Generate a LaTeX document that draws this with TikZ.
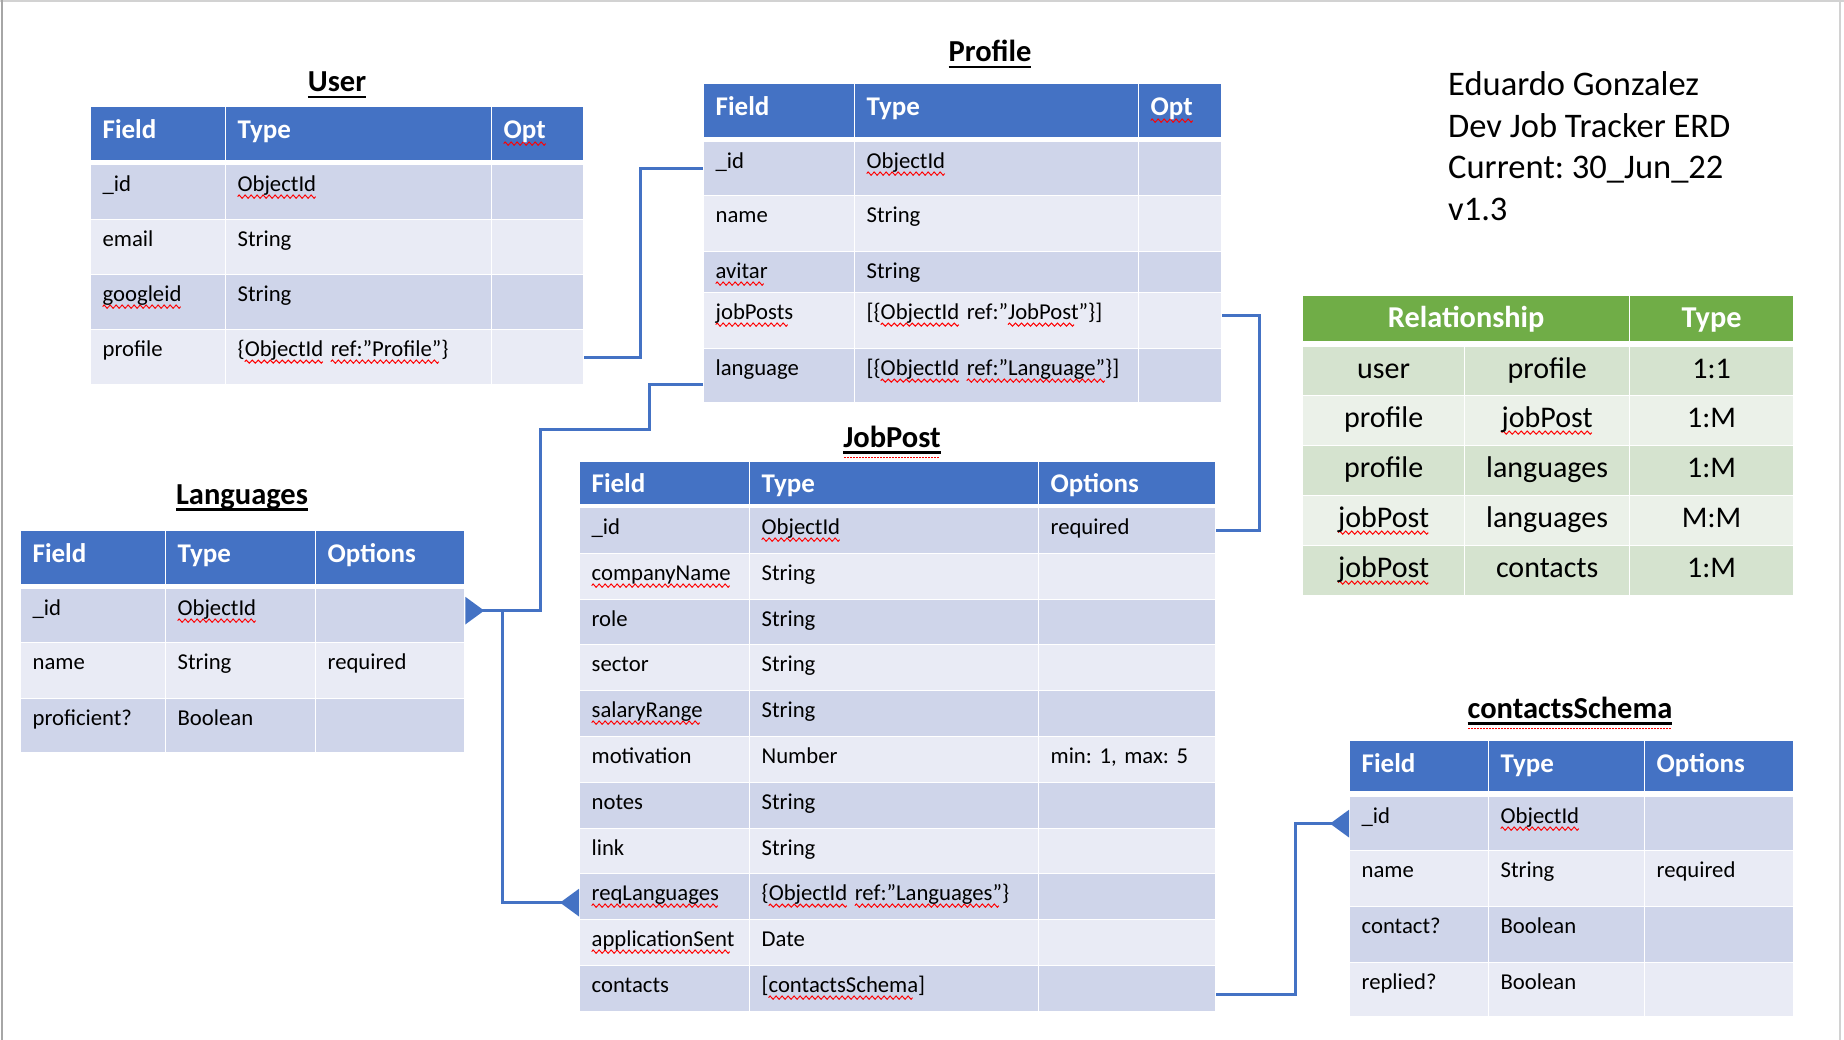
\documentclass[tikz,border=0pt]{standalone}
\usepackage{fontspec}
\setmainfont{Carlito}
\usetikzlibrary{arrows.meta}

\definecolor{hdrblue}{HTML}{4472C4}
\definecolor{rowdk}{HTML}{CFD5EA}
\definecolor{rowlt}{HTML}{E9EBF5}
\definecolor{grnhdr}{HTML}{70AD47}
\definecolor{grndk}{HTML}{D5E3CF}
\definecolor{grnlt}{HTML}{EBF1E9}
\definecolor{lnk}{HTML}{4472C4}

% red spell-check wave under a word
\newsavebox\sqbox
\newcommand\wavebit{\tikz[x=1pt,y=1pt,baseline=0pt]{\useasboundingbox (0,-2) rectangle (6,2);
  \draw[red, line width=1pt] (0,0) sin (1.5,1.6) cos (3,0) sin (4.5,-1.6) cos (6,0);}}
\newcommand\sq[1]{\sbox\sqbox{#1}\rlap{\lower5pt\hbox to\wd\sqbox{\leaders\hbox{\wavebit}\hfill}}\usebox\sqbox}
% table titles, underlined (and a red dotted line for the flagged ones)
\newsavebox\tlbox
\newcommand\uln[1]{\sbox\tlbox{#1}\rlap{\rule[-6.5pt]{\wd\tlbox}{2.5pt}}\usebox\tlbox}
\newcommand\ulnr[1]{\sbox\tlbox{#1}\rlap{\rule[-6.5pt]{\wd\tlbox}{2.5pt}}%
  \rlap{\color{red}\lower11pt\hbox to\wd\tlbox{\leaders\hbox to 3pt{\hss\vrule width 1.5pt height 1.5pt\hss}\hfill}}\usebox\tlbox}

% column edges of the current table
\newcommand\setcols[4]{\def\cA{#1}\def\cB{#2}\def\cC{#3}\def\cD{#4}%
  \pgfmathsetmacro\wA{#2-#1-24}\pgfmathsetmacro\wB{#3-#2-24}\pgfmathsetmacro\wC{#4-#3-24}}
% one table row: [baseline] name style top height field type options
\newcommand\erdrow[8][27]{%
  \pgfmathsetmacro\dep{#5-#1}%
  \node[#3, text width=\wA pt, text height=#1pt, text depth=\dep pt] (#2a) at (\cA,#4) {#6};
  \node[#3, text width=\wB pt, text height=#1pt, text depth=\dep pt] (#2b) at (\cB,#4) {#7};
  \node[#3, text width=\wC pt, text height=#1pt, text depth=\dep pt] (#2c) at (\cC,#4) {#8};}

\tikzset{
  cell/.style={anchor=north west, draw=white, line width=1.25pt, inner xsep=12pt,
    inner ysep=0pt, align=left, font=\fontsize{22.7}{27}\selectfont\frenchspacing},
  hdr/.style={cell, fill=hdrblue, text=white, font=\fontsize{27}{32}\selectfont\bfseries},
  dk/.style={cell, fill=rowdk},
  lt/.style={cell, fill=rowlt},
  rel/.style={cell, align=center, font=\fontsize{30}{36}\selectfont},
  gdk/.style={rel, fill=grndk},
  glt/.style={rel, fill=grnlt},
  ghdr/.style={rel, fill=grnhdr, text=white, font=\fontsize{30.3}{36}\selectfont\bfseries},
  link/.style={draw=lnk, line width=3pt},
  fk/.tip={Triangle[reversed, length=19pt, width=27pt]},
  tabtitle/.style={anchor=base, inner sep=0pt, font=\fontsize{30.5}{36}\selectfont\bfseries},
  info/.style={anchor=base west, inner sep=0pt, font=\fontsize{34.5}{41}\selectfont\frenchspacing}
}

\begin{document}
\begin{tikzpicture}[x=1pt, y=-1pt]
\useasboundingbox (0,0) rectangle (1844,1040);
% page edge
\draw[gray!35, line width=2pt] (0,1.5) -- (1844,1.5);
\draw[gray!70, line width=2pt] (1.5,0) -- (1.5,1040);
\draw[gray!35, line width=2pt] (1840,0) -- (1840,1040);

% User
\node[tabtitle] (t-user) at (337,92) {\uln{User}};
\setcols{90}{225}{491}{583}
\erdrow[32]{uh}{hdr}{106}{54}{Field}{Type}{\sq{Opt}}
\erdrow{u1}{dk}{164}{55}{\_id}{\sq{ObjectId}}{}
\erdrow{u2}{lt}{219}{55}{email}{String}{}
\erdrow{u3}{dk}{274}{55}{\sq{googleid}}{String}{}
\erdrow{u4}{lt}{329}{55}{profile}{\{\sq{ObjectId} \sq{ref:”Profile”}\}}{}

% Profile
\node[tabtitle] (t-prof) at (990,62) {\uln{Profile}};
\setcols{703}{854}{1138}{1221}
\erdrow[32]{ph}{hdr}{83}{54}{Field}{Type}{\sq{Opt}}
\erdrow{p1}{dk}{141}{54}{\_id}{\sq{ObjectId}}{}
\erdrow{p2}{lt}{195}{56}{name}{String}{}
\erdrow{p3}{dk}{251}{41}{\sq{avitar}}{String}{}
\erdrow{p4}{lt}{292}{56}{\sq{jobPosts}}{[\{\sq{ObjectId} ref:”\sq{JobPost}”\}]}{}
\erdrow{p5}{dk}{348}{54}{language}{[\{\sq{ObjectId} \sq{ref:”Language”}\}]}{}

% Languages
\node[tabtitle] (t-lang) at (242,504) {\uln{Languages}};
\setcols{20}{165}{315}{464}
\erdrow[32]{lh}{hdr}{530}{54}{Field}{Type}{Options}
\erdrow{l1}{dk}{588}{54}{\_id}{\sq{ObjectId}}{}
\erdrow{l2}{lt}{642}{56}{name}{String}{required}
\erdrow{l3}{dk}{698}{54}{proficient?}{Boolean}{}

% JobPost
\node[tabtitle] (t-job) at (892,447) {\ulnr{JobPost}};
\setcols{579}{749}{1038}{1215}
\erdrow[31]{jh}{hdr}{461}{43}{Field}{Type}{Options}
\erdrow{j1}{dk}{507}{46}{\_id}{\sq{ObjectId}}{required}
\erdrow{j2}{lt}{553}{46}{\sq{companyName}}{String}{}
\erdrow{j3}{dk}{599}{45}{role}{String}{}
\erdrow{j4}{lt}{644}{46}{sector}{String}{}
\erdrow{j5}{dk}{690}{46}{\sq{salaryRange}}{String}{}
\erdrow{j6}{lt}{736}{46}{motivation}{Number}{min: 1, max: 5}
\erdrow{j7}{dk}{782}{46}{notes}{String}{}
\erdrow{j8}{lt}{828}{45}{link}{String}{}
\erdrow{j9}{dk}{873}{46}{\sq{reqLanguages}}{\{\sq{ObjectId} \sq{ref:”Languages”}\}}{}
\erdrow{j10}{lt}{919}{46}{\sq{applicationSent}}{Date}{}
\erdrow{j11}{dk}{965}{46}{contacts}{[\sq{contactsSchema}]}{}

% contactsSchema
\node[tabtitle] (t-cont) at (1570,718) {\ulnr{contactsSchema}};
\setcols{1349}{1488}{1644}{1793}
\erdrow[32]{ch}{hdr}{740}{51}{Field}{Type}{Options}
\erdrow{c1}{dk}{796}{54}{\_id}{\sq{ObjectId}}{}
\erdrow{c2}{lt}{850}{56}{name}{String}{required}
\erdrow{c3}{dk}{906}{56}{contact?}{Boolean}{}
\erdrow{c4}{lt}{962}{54}{replied?}{Boolean}{}

% author block
\foreach \t [count=\i] in {Eduardo Gonzalez, Dev Job Tracker ERD, Current: 30\_Jun\_22, v1.3}
  \node[info] (info\i) at (1448,{96+41.5*(\i-1)}) {\t};

% relationships
\setcols{1302}{1464}{1629}{1793}
\node[ghdr, text width=303pt, text height=32pt, text depth=14pt] (rh1) at (1302,295) {Relationship};
\node[ghdr, text width=140pt, text height=32pt, text depth=14pt] (rh2) at (1629,295) {Type};
\erdrow[32]{r1}{gdk}{346}{49}{user}{profile}{1:1}
\erdrow[32]{r2}{glt}{395}{50}{profile}{\sq{jobPost}}{1:M}
\erdrow[32]{r3}{gdk}{445}{50}{profile}{languages}{1:M}
\erdrow[32]{r4}{glt}{495}{50}{\sq{jobPost}}{languages}{M:M}
\erdrow[32]{r5}{gdk}{545}{50}{\sq{jobPost}}{contacts}{1:M}

% connectors
\draw[link] (u4c.east) -- ++(56,0) |- (p1a.west);
\coordinate (lbend) at (540,429);
\draw[link, -fk] ([yshift=-9pt]p5a.west) -- ++(-54,0) |- (lbend) |- ([yshift=5pt]l1c.east);
\coordinate (lsplit) at ([xshift=37pt, yshift=5pt]l1c.east);
\draw[link, -fk] (lsplit) |- ([yshift=-6pt]j9a.west);
\draw[link] ([yshift=5pt]p4c.east) -- ++(37,0) |- (j1c.east);
\draw[link, -fk] ([yshift=-6pt]j11c.east) -- ++(79,0) |- (c1a.west);
\end{tikzpicture}
\end{document}
